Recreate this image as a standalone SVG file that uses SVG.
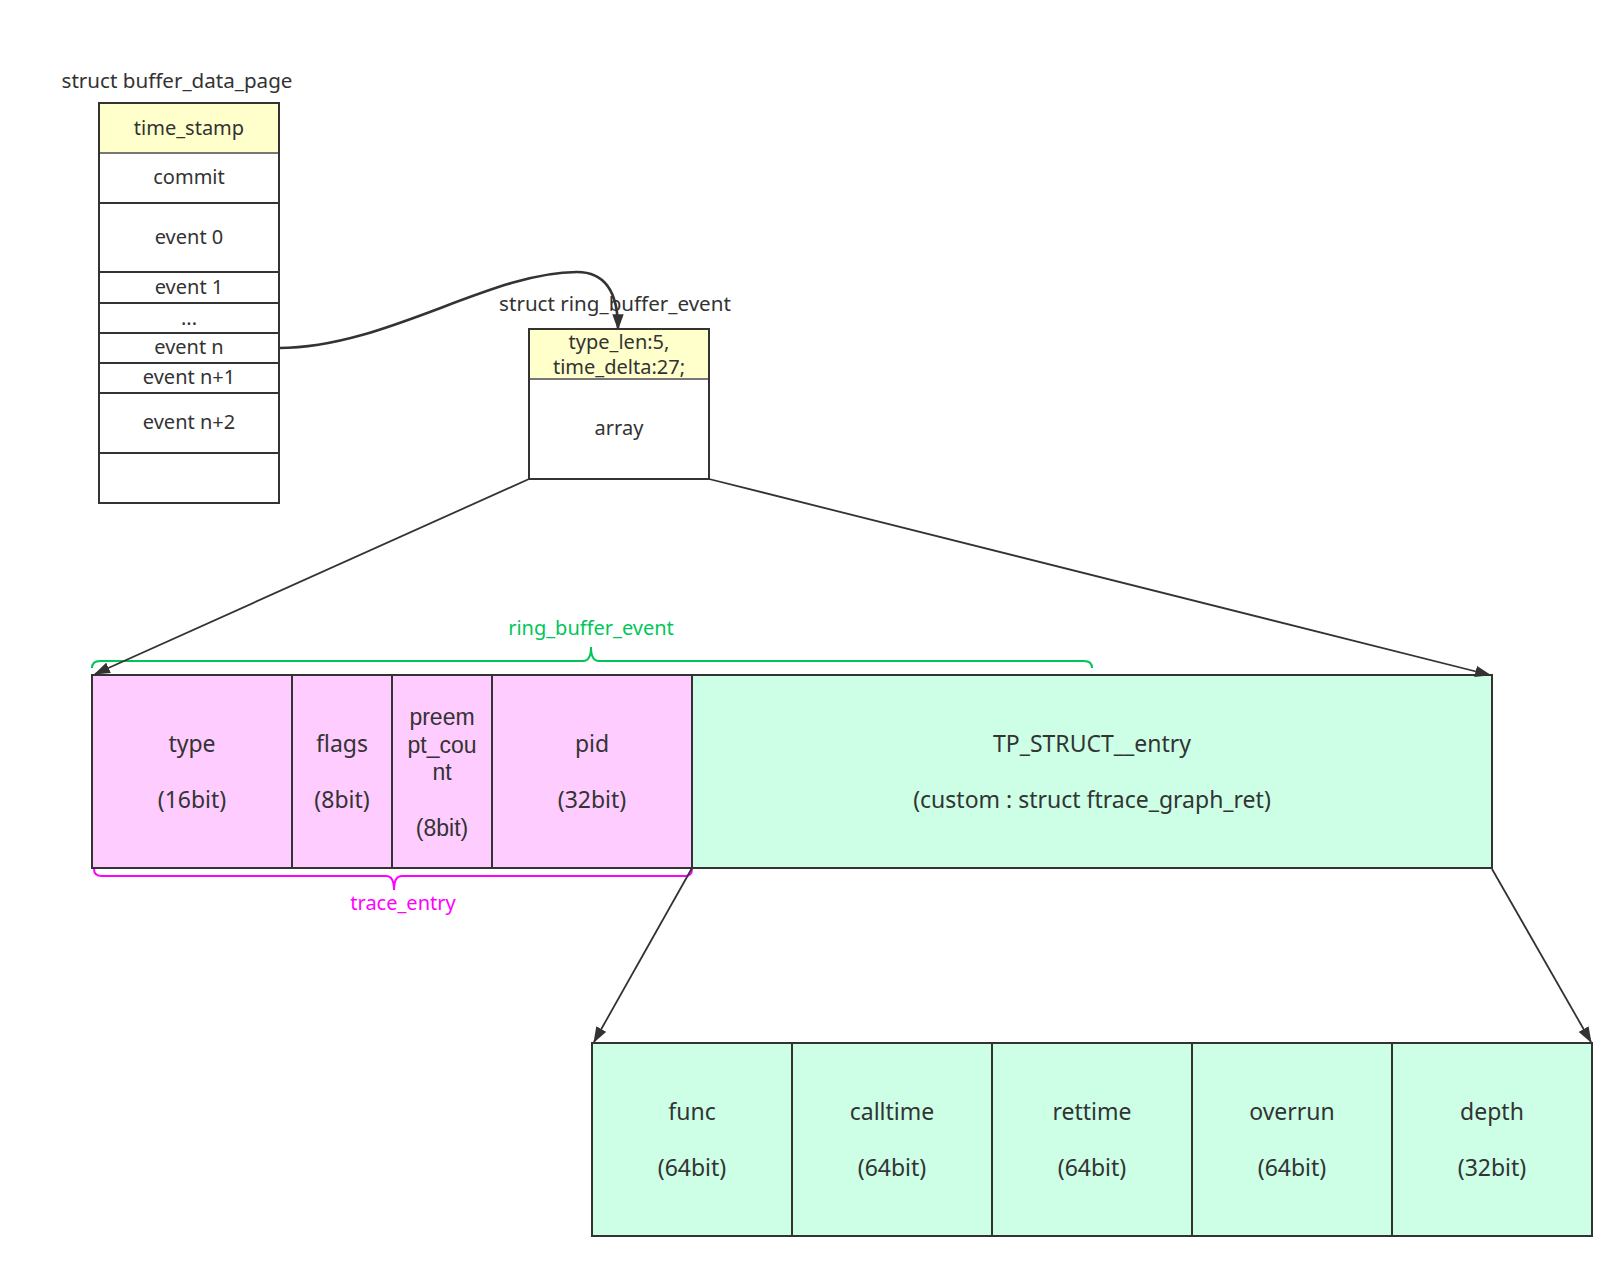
<svg xmlns="http://www.w3.org/2000/svg" width="1624" height="1269" viewBox="0 0 1624 1269">
<style>
  text { font-family: "Noto Sans", "Open Sans", "Liberation Sans", sans-serif; fill: #333; text-anchor: middle; }
  .s { font-size: 20px; }
  .t { font-size: 20.6px; }
  .l { font-size: 23px; }
  .lc { font-family: "Liberation Sans", Arial, sans-serif; font-size: 23px; }
  .box { stroke: #333; stroke-width: 2; }
  .sep { stroke: #333; stroke-width: 2; }
  .hsep { stroke: #777; stroke-width: 2; }
  .yel { fill: #FFFFCC; }
  .wht { fill: #FFFFFF; }
  .pink { fill: #FFCCFF; }
  .mint { fill: #CCFFE6; }
  .conn { fill: none; stroke: #333; stroke-width: 1.8; }
  .brace { fill: none; stroke-width: 2; }
</style>
<defs>
  <marker id="arr" markerUnits="userSpaceOnUse" markerWidth="16" markerHeight="12" viewBox="0 0 14 10" refX="13" refY="5" orient="auto">
    <path d="M0,0 L14,5 L0,10 z" fill="#333"/>
  </marker>
</defs>
<rect width="1624" height="1269" fill="#FFFFFF"/>

<g id="buffer_data_page">
  <text class="t" x="177" y="88">struct buffer_data_page</text>
  <rect class="box wht" x="99" y="103" width="180" height="400"/>
  <rect class="yel" x="100" y="104" width="178" height="49"/>
  <line class="hsep" x1="99" y1="153" x2="279" y2="153"/>
  <line class="sep" x1="99" y1="203" x2="279" y2="203"/>
  <line class="sep" x1="99" y1="272" x2="279" y2="272"/>
  <line class="sep" x1="99" y1="303" x2="279" y2="303"/>
  <line class="sep" x1="99" y1="333" x2="279" y2="333"/>
  <line class="sep" x1="99" y1="363" x2="279" y2="363"/>
  <line class="sep" x1="99" y1="393" x2="279" y2="393"/>
  <line class="sep" x1="99" y1="453" x2="279" y2="453"/>
  <rect class="box" fill="none" x="99" y="103" width="180" height="400"/>
  <text class="s" x="189" y="135">time_stamp</text>
  <text class="s" x="189" y="184">commit</text>
  <text class="s" x="189" y="244">event 0</text>
  <text class="s" x="189" y="294">event 1</text>
  <text class="s" x="189" y="325">...</text>
  <text class="s" x="189" y="354">event n</text>
  <text class="s" x="189" y="384">event n+1</text>
  <text class="s" x="189" y="429">event n+2</text>
</g>

<g id="ring_buffer_event">
  <text class="t" x="615" y="311">struct ring_buffer_event</text>
  <rect class="box wht" x="529" y="329" width="180" height="150"/>
  <rect class="yel" x="530" y="330" width="178" height="49"/>
  <line class="hsep" x1="529" y1="379" x2="709" y2="379"/>
  <rect class="box" fill="none" x="529" y="329" width="180" height="150"/>
  <text class="s" x="619" y="349">type_len:5,</text>
  <text class="s" x="619" y="374">time_delta:27;</text>
  <text class="s" x="619" y="435">array</text>
</g>

<g id="trace_event_layout">
  <g id="cell_type">
    <rect class="box pink" x="92" y="675" width="200" height="193"/>
    <text class="l" x="192" y="752">type</text>
    <text class="l" x="192" y="808">(16bit)</text>
  </g>
  <g id="cell_flags">
    <rect class="box pink" x="292" y="675" width="100" height="193"/>
    <text class="l" x="342" y="752">flags</text>
    <text class="l" x="342" y="808">(8bit)</text>
  </g>
  <g id="cell_preempt_count">
    <rect class="box pink" x="392" y="675" width="100" height="193"/>
    <text class="lc" x="442" y="725">preem</text>
    <text class="lc" x="442" y="753">pt_cou</text>
    <text class="lc" x="442" y="780">nt</text>
    <text class="lc" x="442" y="836">(8bit)</text>
  </g>
  <g id="cell_pid">
    <rect class="box pink" x="492" y="675" width="200" height="193"/>
    <text class="l" x="592" y="752">pid</text>
    <text class="l" x="592" y="808">(32bit)</text>
  </g>
  <g id="cell_tp_struct_entry">
    <rect class="box mint" x="692" y="675" width="800" height="193"/>
    <text class="l" x="1092" y="752">TP_STRUCT__entry</text>
    <text class="l" x="1092" y="808">(custom : struct ftrace_graph_ret)</text>
  </g>
</g>

<g id="ftrace_graph_ret">
  <g id="cell_func">
    <rect class="box mint" x="592" y="1043" width="200" height="193"/>
    <text class="l" x="692" y="1120">func</text>
    <text class="l" x="692" y="1176">(64bit)</text>
  </g>
  <g id="cell_calltime">
    <rect class="box mint" x="792" y="1043" width="200" height="193"/>
    <text class="l" x="892" y="1120">calltime</text>
    <text class="l" x="892" y="1176">(64bit)</text>
  </g>
  <g id="cell_rettime">
    <rect class="box mint" x="992" y="1043" width="200" height="193"/>
    <text class="l" x="1092" y="1120">rettime</text>
    <text class="l" x="1092" y="1176">(64bit)</text>
  </g>
  <g id="cell_overrun">
    <rect class="box mint" x="1192" y="1043" width="200" height="193"/>
    <text class="l" x="1292" y="1120">overrun</text>
    <text class="l" x="1292" y="1176">(64bit)</text>
  </g>
  <g id="cell_depth">
    <rect class="box mint" x="1392" y="1043" width="200" height="193"/>
    <text class="l" x="1492" y="1120">depth</text>
    <text class="l" x="1492" y="1176">(32bit)</text>
  </g>
</g>

<g id="brace_ring_buffer_event">
  <path class="brace" stroke="#00C65A" d="M92,668 Q92,661 100,661 L583,661 Q591,661 591,647 Q591,661 599,661 L1084,661 Q1092,661 1092,668"/>
  <text class="s" x="591" y="635" style="fill:#00C65A">ring_buffer_event</text>
</g>

<g id="brace_trace_entry">
  <path class="brace" stroke="#FF00FF" d="M94,869 Q94,876 102,876 L386,876 Q394,876 394,890 Q394,876 402,876 L685,876 Q692,876 692,869"/>
  <text class="s" x="403" y="910" style="fill:#FF00FF">trace_entry</text>
</g>

<g id="connectors">
  <path class="conn" style="stroke-width:2.6" marker-end="url(#arr)" d="M279,348 C385,348 490,272 577,272 C605,272 618,292 618,329"/>
  <line class="conn" x1="529" y1="479" x2="95" y2="674" marker-end="url(#arr)"/>
  <line class="conn" x1="709" y1="479" x2="1490" y2="675" marker-end="url(#arr)"/>
  <line class="conn" x1="692" y1="868" x2="594" y2="1042" marker-end="url(#arr)"/>
  <line class="conn" x1="1492" y1="869" x2="1591" y2="1042" marker-end="url(#arr)"/>
</g>
</svg>
